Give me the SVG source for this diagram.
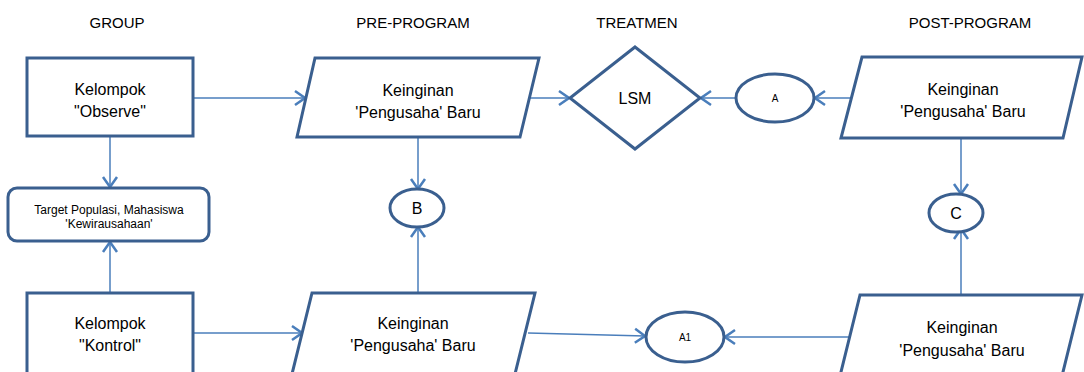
<svg xmlns="http://www.w3.org/2000/svg" width="1084" height="372" viewBox="0 0 1084 372">
<style>
.shape{fill:#fff;stroke:#3A5F8F;stroke-width:3}
.conn{fill:none;stroke:#4A7EBB;stroke-width:1.5}
text{font-family:"Liberation Sans",Arial,sans-serif;fill:#000;text-anchor:middle}
.hdr{font-size:15px}
.lbl{font-size:16px}
.sm{font-size:12px}
.xs{font-size:10px}
</style>
<defs>
<marker id="arr" viewBox="-1 -9 13 18" refX="10" refY="0" markerWidth="13" markerHeight="18" markerUnits="userSpaceOnUse" orient="auto">
<path d="M0,-7 L10,0 L0,7" fill="none" stroke="#4A7EBB" stroke-width="2.5"/>
</marker>
</defs>
<rect width="1084" height="372" fill="#fff"/>
<g id="headers">
<text class="hdr" x="117" y="28">GROUP</text>
<text class="hdr" x="413" y="28">PRE-PROGRAM</text>
<text class="hdr" x="637" y="28">TREATMEN</text>
<text class="hdr" x="970" y="28">POST-PROGRAM</text>
</g>
<g id="connectors">
<line class="conn" x1="193" y1="98" x2="305" y2="98" marker-end="url(#arr)"/>
<line class="conn" x1="530" y1="98" x2="569" y2="98" marker-end="url(#arr)"/>
<line class="conn" x1="736" y1="98" x2="701" y2="98" marker-end="url(#arr)"/>
<line class="conn" x1="860" y1="98" x2="815" y2="98" marker-end="url(#arr)"/>
<line class="conn" x1="110" y1="136" x2="110" y2="187" marker-end="url(#arr)"/>
<line class="conn" x1="110" y1="293" x2="110" y2="242" marker-end="url(#arr)"/>
<line class="conn" x1="418" y1="137" x2="418" y2="189" marker-end="url(#arr)"/>
<line class="conn" x1="418" y1="293" x2="418" y2="227" marker-end="url(#arr)"/>
<line class="conn" x1="961" y1="138" x2="961" y2="194" marker-end="url(#arr)"/>
<line class="conn" x1="961" y1="295" x2="961" y2="229" marker-end="url(#arr)"/>
<line class="conn" x1="193" y1="333" x2="302" y2="333" marker-end="url(#arr)"/>
<line class="conn" x1="528" y1="333" x2="645" y2="336" marker-end="url(#arr)"/>
<line class="conn" x1="850" y1="337" x2="725" y2="337" marker-end="url(#arr)"/>
</g>
<g id="observe">
<rect class="shape" x="27" y="58" width="166" height="78"/>
<text class="lbl" x="110" y="95">Kelompok</text>
<text class="lbl" x="110" y="117">"Observe"</text>
</g>
<g id="pre-top">
<polygon class="shape" points="315,58 539,58 520,137 297,137"/>
<text class="lbl" x="418" y="96">Keinginan</text>
<text class="lbl" x="418" y="118">'Pengusaha' Baru</text>
</g>
<g id="lsm">
<polygon class="shape" points="635,47 700,98 635,149 570,98"/>
<text class="lbl" x="635" y="104">LSM</text>
</g>
<g id="A">
<ellipse class="shape" cx="775" cy="98" rx="39" ry="24"/>
<text class="xs" x="775" y="102">A</text>
</g>
<g id="post-top">
<polygon class="shape" points="862,57 1082,57 1063,138 841,138"/>
<text class="lbl" x="963" y="95">Keinginan</text>
<text class="lbl" x="963" y="117">'Pengusaha' Baru</text>
</g>
<g id="target">
<rect class="shape" x="8" y="188" width="201" height="53" rx="9"/>
<text class="sm" x="109" y="214">Target Populasi, Mahasiswa</text>
<text class="sm" x="109" y="228">'Kewirausahaan'</text>
</g>
<g id="B">
<ellipse class="shape" cx="417" cy="208" rx="27" ry="19"/>
<text class="lbl" x="417" y="214">B</text>
</g>
<g id="C">
<ellipse class="shape" cx="956" cy="213" rx="27" ry="19"/>
<text class="lbl" x="956" y="219">C</text>
</g>
<g id="kontrol">
<rect class="shape" x="27" y="293" width="166" height="82"/>
<text class="lbl" x="110" y="329">Kelompok</text>
<text class="lbl" x="110" y="351">"Kontrol"</text>
</g>
<g id="pre-bottom">
<polygon class="shape" points="312,293 535,293 515,374 292,374"/>
<text class="lbl" x="413" y="329">Keinginan</text>
<text class="lbl" x="413" y="351">'Pengusaha' Baru</text>
</g>
<g id="A1">
<ellipse class="shape" cx="685" cy="337" rx="39" ry="25"/>
<text class="xs" x="685" y="341">A1</text>
</g>
<g id="post-bottom">
<polygon class="shape" points="860,295 1082,295 1062,376 840,376"/>
<text class="lbl" x="962" y="333">Keinginan</text>
<text class="lbl" x="962" y="356">'Pengusaha' Baru</text>
</g>
</svg>
